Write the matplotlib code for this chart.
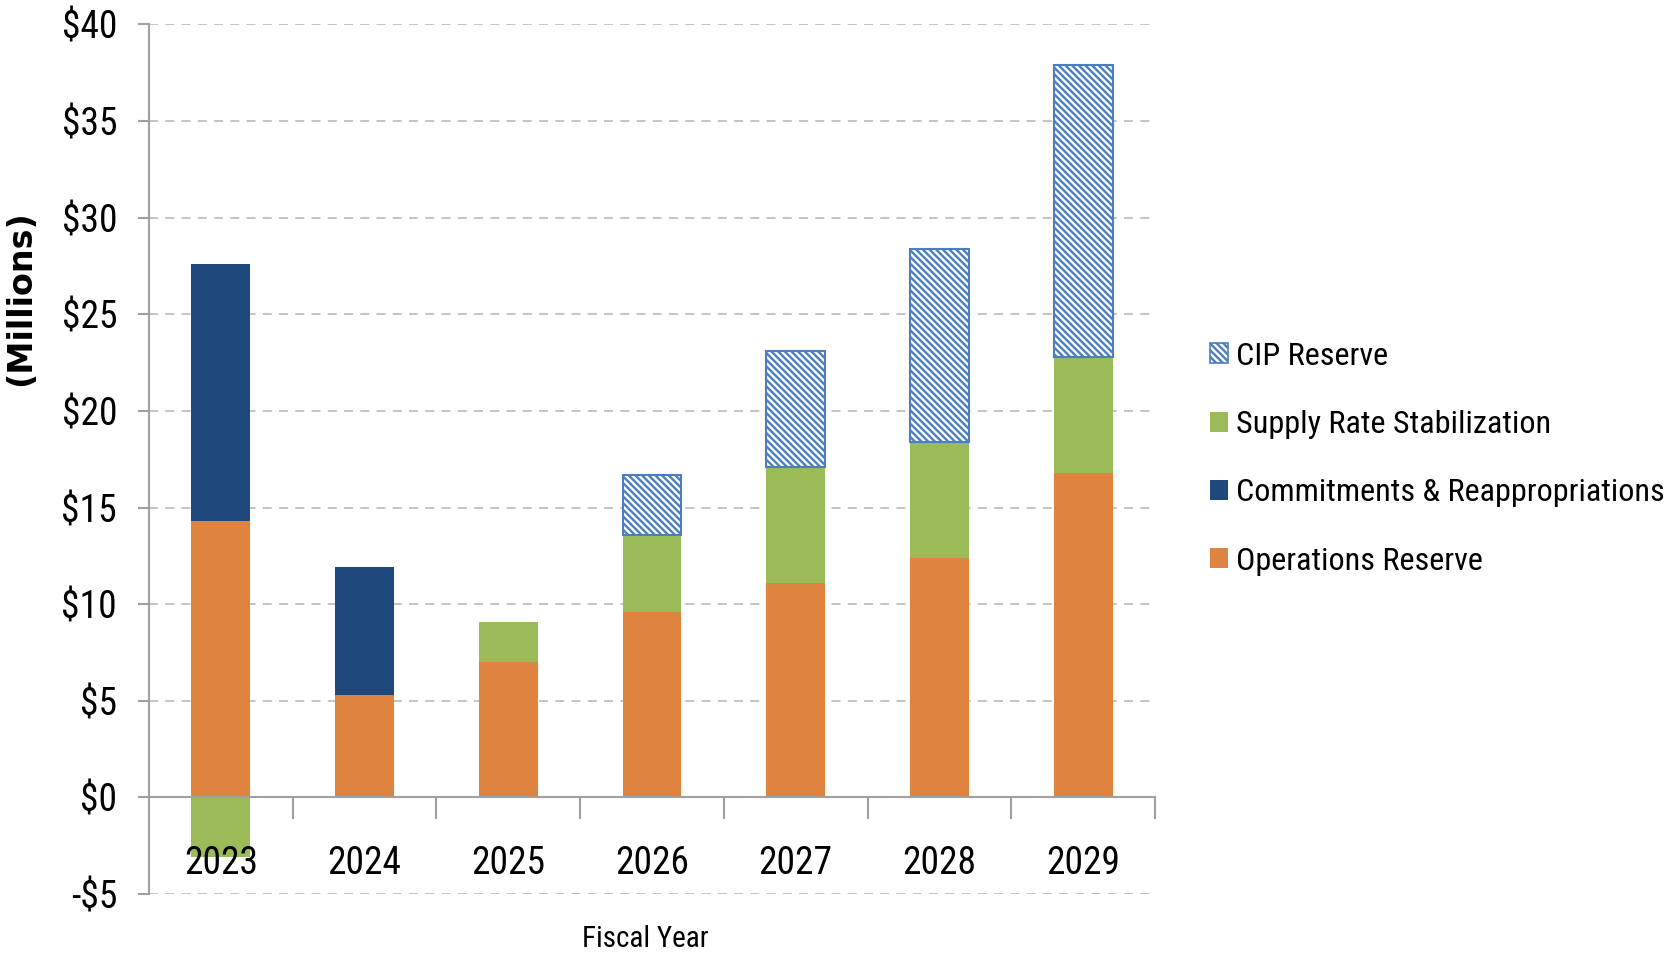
import matplotlib.pyplot as plt
import numpy as np
from matplotlib.patches import Patch
from matplotlib.ticker import FuncFormatter, FixedLocator

# fiscal years and reserve components ($ millions)
years = ['2023', '2024', '2025', '2026', '2027', '2028', '2029']
operations = [14.3, 5.3, 7.0, 9.6, 11.1, 12.4, 16.8]
supply_rate = [-3.1, 0.0, 2.1, 4.0, 6.0, 6.0, 6.0]
commitments = [13.3, 6.6, 0.0, 0.0, 0.0, 0.0, 0.0]
cip = [0.0, 0.0, 0.0, 3.1, 6.0, 10.0, 15.1]

c_ops = '#DE8440'
c_supply = '#9BBB59'
c_commit = '#1F497D'
c_cip = '#4A7EC0'

plt.rcParams['font.family'] = ['Roboto Condensed', 'Roboto', 'DejaVu Sans']
plt.rcParams['hatch.linewidth'] = 1.7

fig = plt.figure(figsize=(16.69, 9.59), dpi=100)
ax = fig.add_axes([0.0893, 0.0678, 0.6027, 0.9067])

x = np.arange(len(years))
width = 0.41

ops = np.array(operations)
sup = np.array(supply_rate)
com = np.array(commitments)
cp = np.array(cip)

ax.bar(x, ops, width, color=c_ops, zorder=2)
# supply rate stacks on top of operations, or hangs below zero when negative
sup_bottom = np.where(sup >= 0, ops, 0)
ax.bar(x, sup, width, bottom=sup_bottom, color=c_supply, zorder=2)
com_bottom = ops + np.clip(sup, 0, None)
ax.bar(x, com, width, bottom=com_bottom, color=c_commit, zorder=2)
cip_bottom = com_bottom + com
mask = cp > 0
ax.bar(x[mask], cp[mask], width, bottom=cip_bottom[mask], facecolor='white',
       edgecolor=c_cip, hatch='\\\\\\\\\\', linewidth=1.5, zorder=2)

ax.set_xlim(-0.5, 6.5)
ax.set_ylim(-5, 40)
ax.set_yticks(np.arange(-5, 41, 5))
ax.yaxis.set_major_formatter(FuncFormatter(lambda v, p: f'-${abs(int(v))}' if v < 0 else f'${int(v)}'))

for v in np.arange(-5, 41, 5):
    if v != 0:
        ax.axhline(v, color='#BFBFBF', linestyle=(0, (5, 4)), linewidth=1.3, zorder=0)

ax.spines['top'].set_visible(False)
ax.spines['right'].set_visible(False)
ax.spines['left'].set_color('#A0A0A0')
ax.spines['left'].set_linewidth(1.5)
ax.spines['bottom'].set_position(('data', 0))
ax.spines['bottom'].set_color('#A0A0A0')
ax.spines['bottom'].set_linewidth(1.5)
ax.spines['bottom'].set_zorder(3)

ax.set_xticks(x)
ax.set_xticklabels(years)
ax.xaxis.set_minor_locator(FixedLocator(np.arange(0.5, 6.6, 1)))
ax.xaxis.set_zorder(3)  # year labels sit on top of the negative bar
ax.tick_params(axis='x', which='major', length=0, pad=34, labelsize=27)
ax.tick_params(axis='x', which='minor', length=16, width=1.5, color='#A0A0A0', direction='out')
ax.tick_params(axis='y', length=8, width=1.5, color='#A0A0A0', direction='out', labelsize=27, pad=15)

fig.text(0.3865, 0.021, 'Fiscal Year', ha='center', va='center', fontsize=21)
fig.text(0.0126, 0.689, '(Millions)', rotation=90, ha='center', va='center',
         fontsize=24, fontweight='bold', family='DejaVu Sans')

handles = [
    Patch(facecolor='white', edgecolor=c_cip, hatch='\\\\\\\\\\', linewidth=1.2, label='CIP Reserve'),
    Patch(facecolor=c_supply, label='Supply Rate Stabilization'),
    Patch(facecolor=c_commit, label='Commitments & Reappropriations'),
    Patch(facecolor=c_ops, label='Operations Reserve'),
]
fig.legend(handles=handles, loc='upper left', bbox_to_anchor=(0.717, 0.657), frameon=False,
           fontsize=23.2, handlelength=0.58, handleheight=0.58, handletextpad=0.25,
           labelspacing=1.22, borderaxespad=0)

fig.savefig('out.png', dpi=100)
